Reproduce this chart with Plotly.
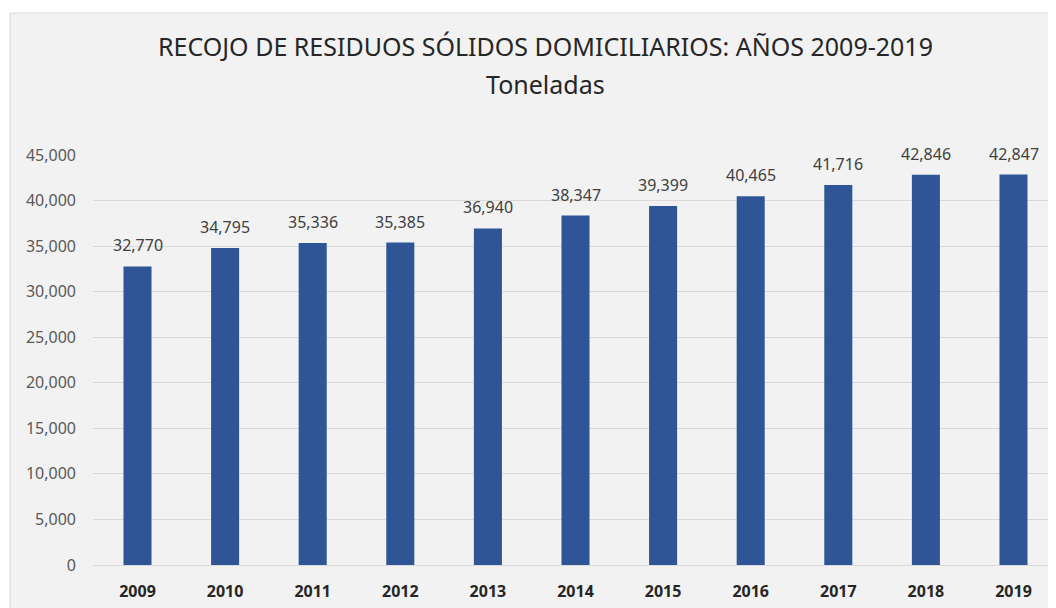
import plotly.graph_objects as go

years = ["2009", "2010", "2011", "2012", "2013", "2014", "2015", "2016", "2017", "2018", "2019"]
toneladas = [32770, 34795, 35336, 35385, 36940, 38347, 39399, 40465, 41716, 42846, 42847]
y_ticks = [0, 5000, 10000, 15000, 20000, 25000, 30000, 35000, 40000, 45000]
title = "RECOJO DE RESIDUOS SÓLIDOS DOMICILIARIOS: AÑOS 2009-2019"
subtitle = "Toneladas"

# page has an 8px body margin: figure coordinates = screen coordinates - 8
OFF = 8
W, H = 1056, 608
L, R, T, B = 93 - OFF, 4, 155 - OFF, 608 - (565 - OFF)
pw, ph = W - L - R, H - T - B

def px(xs):
    return (xs - OFF - L) / pw

def py(ys):
    return (H - B - (ys - OFF)) / ph

FONT = "Noto Sans"

fig = go.Figure()
fig.add_trace(go.Bar(
    x=list(range(len(years))), y=toneladas, marker=dict(color="#2f5597", line=dict(width=0)),
    width=0.32, hoverinfo="skip",
))

annotations = []
for i, v in enumerate(toneladas):
    annotations.append(dict(x=i, y=v, xref="x", yref="y", text=f"{v:,}", showarrow=False,
                            yshift=21, font=dict(family=FONT, size=16, color="#404040")))
annotations.append(dict(x=px(545), y=py(46), xref="paper", yref="paper", text=title, showarrow=False,
                        font=dict(family=FONT, size=25, color="#262626"), xanchor="center", yanchor="middle"))
annotations.append(dict(x=px(545), y=py(84), xref="paper", yref="paper", text=subtitle, showarrow=False,
                        font=dict(family=FONT, size=25, color="#262626"), xanchor="center", yanchor="middle"))

shapes = [dict(type="rect", xref="paper", yref="paper", x0=px(10), x1=px(1080), y0=py(630), y1=py(13),
               fillcolor="#f2f2f2", line=dict(color="#d9d9d9", width=1), layer="below")]

unit = 87.6
x_lo = -(137.5 - 93) / unit
x_hi = x_lo + pw / unit

fig.update_layout(
    width=W, height=H,
    margin=dict(l=L, r=R, t=T, b=B, pad=0),
    paper_bgcolor="white", plot_bgcolor="rgba(0,0,0,0)",
    showlegend=False,
    annotations=annotations, shapes=shapes,
    xaxis=dict(tickmode="array", tickvals=list(range(len(years))), ticktext=years,
               range=[x_lo, x_hi], showgrid=False, showline=False, zeroline=False,
               ticks="", tickfont=dict(family=FONT, size=16, color="#262626", weight="bold"),
               ticklabelstandoff=15, fixedrange=True),
    yaxis=dict(range=[0, 45000], tickvals=y_ticks, tickformat=",", showgrid=True, gridcolor="#d9d9d9",
               gridwidth=1, zeroline=True, zerolinecolor="#d9d9d9", zerolinewidth=1, showline=False,
               ticks="", tickfont=dict(family=FONT, size=16, color="#595959"), ticklabelstandoff=16,
               fixedrange=True),
)

fig.write_html("out.html")
